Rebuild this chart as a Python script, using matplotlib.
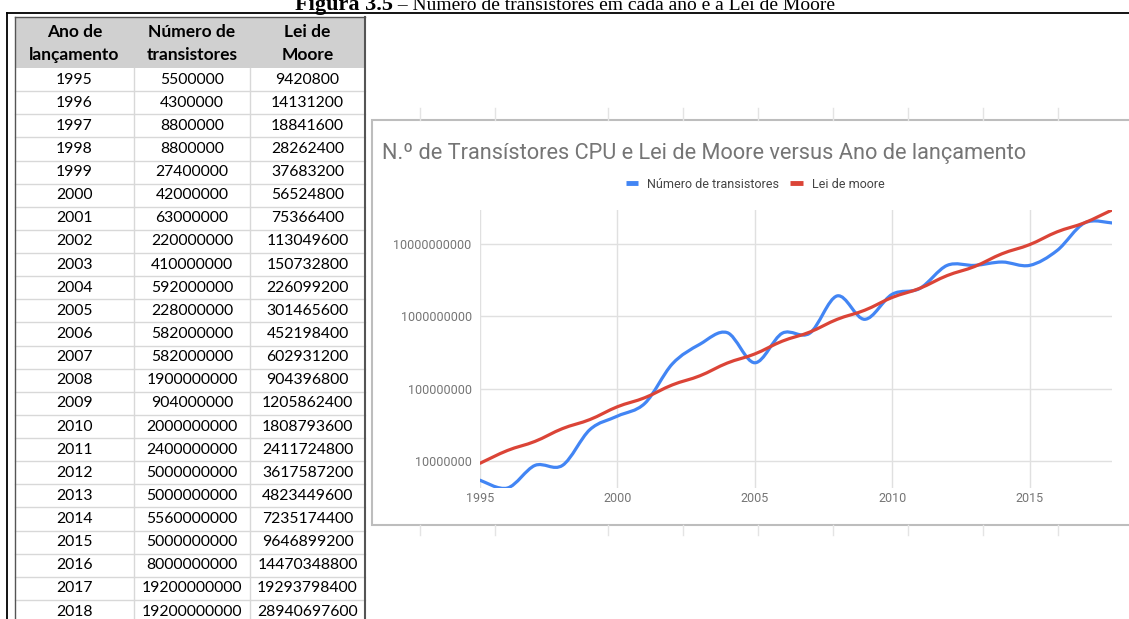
# Tabela com o número de transístores por ano e a Lei de Moore,
# com o gráfico (escala log) ao lado, como na figura 3.5

import numpy as np
import matplotlib.pyplot as plt
from matplotlib.path import Path
from matplotlib.patches import PathPatch, Rectangle
from matplotlib.lines import Line2D

anos = [1995, 1996, 1997, 1998, 1999, 2000, 2001, 2002, 2003, 2004, 2005, 2006,
        2007, 2008, 2009, 2010, 2011, 2012, 2013, 2014, 2015, 2016, 2017, 2018]
transistores = [5500000, 4300000, 8800000, 8800000, 27400000, 42000000, 63000000,
                220000000, 410000000, 592000000, 228000000, 582000000, 582000000,
                1900000000, 904000000, 2000000000, 2400000000, 5000000000,
                5000000000, 5560000000, 5000000000, 8000000000, 19200000000,
                19200000000]
moore = [9420800, 14131200, 18841600, 28262400, 37683200, 56524800, 75366400,
         113049600, 150732800, 226099200, 301465600, 452198400, 602931200,
         904396800, 1205862400, 1808793600, 2411724800, 3617587200, 4823449600,
         7235174400, 9646899200, 14470348800, 19293798400, 28940697600]

cabecalho = [("Ano de", "lançamento"), ("Número de", "transistores"), ("Lei de", "Moore")]
titulo = "N.º de Transístores CPU e Lei de Moore versus Ano de lançamento"
nomes = ["Número de transistores", "Lei de moore"]
legenda_fig_a = "Figura 3.5"
legenda_fig_b = " – Número de transístores em cada ano e a Lei de Moore"

azul = "#4285f4"
vermelho = "#db4437"
cinza = "#757575"


def curva_suave(x, y):
    # curva de Bezier (Catmull-Rom) passando pelos pontos, em espaço log
    ly = np.log10(y)
    n = len(x)
    verts = [(x[0], y[0])]
    codes = [Path.MOVETO]
    for i in range(n - 1):
        i0 = max(i - 1, 0)
        i2 = min(i + 2, n - 1)
        dx1 = (x[i + 1] - x[i0]) / 6.0
        dy1 = (ly[i + 1] - ly[i0]) / 6.0
        dx2 = (x[i2] - x[i]) / 6.0
        dy2 = (ly[i2] - ly[i]) / 6.0
        verts.append((x[i] + dx1, 10 ** (ly[i] + dy1)))
        verts.append((x[i + 1] - dx2, 10 ** (ly[i + 1] - dy2)))
        verts.append((x[i + 1], y[i + 1]))
        codes += [Path.CURVE4] * 3
    return Path(verts, codes)


W, H = 1129, 619
fig = plt.figure(figsize=(W / 100, H / 100), dpi=100)

# eixo de fundo em pixels (tabela, molduras)
bg = fig.add_axes([0, 0, 1, 1])
bg.set_xlim(0, W)
bg.set_ylim(H, 0)
bg.axis("off")

# legenda da figura (cortada no topo)
bg.text(393, 10, legenda_fig_a, ha="right", va="baseline", fontsize=16,
        fontweight="bold", family="Liberation Serif")
bg.text(393, 10, legenda_fig_b, ha="left", va="baseline", fontsize=14,
        family="Liberation Serif")

# moldura exterior
bg.plot([7, W], [13, 13], color="black", lw=1.3)
bg.plot([7, 7], [13, H], color="black", lw=1.3)

# tabela
x0, x1, x2, x3 = 15, 134, 250, 365
y_cab = 17
y_lin = 68
alt = 23.13
bg.add_patch(Rectangle((x0, y_cab), x3 - x0, y_lin - y_cab, facecolor="#d0d0d0",
                       edgecolor="none"))
centros = [(x0 + x1) / 2, (x1 + x2) / 2, (x2 + x3) / 2]
for c, (l1, l2) in zip(centros, cabecalho):
    bg.text(c, 32, l1, ha="center", va="center", fontsize=12.5, fontweight="bold",
            family="Lato")
    bg.text(c, 55, l2, ha="center", va="center", fontsize=12.5, fontweight="bold",
            family="Lato")

for i in range(len(anos)):
    yc = y_lin + alt * (i + 0.5)
    linha = [str(anos[i]), str(transistores[i]), str(moore[i])]
    for c, t in zip(centros, linha):
        bg.text(c, yc, t, ha="center", va="center", fontsize=11.3, family="Lato")
    bg.plot([x0, x3], [y_lin + alt * (i + 1)] * 2, color="#d8d8d8", lw=1)

for xv in [x1, x2]:
    bg.plot([xv, xv], [y_lin, H], color="#d8d8d8", lw=1)
bg.plot([x0, x3], [y_cab, y_cab], color="#555555", lw=1)
bg.plot([x0, x0], [y_cab, H], color="#555555", lw=1)
bg.plot([x3, x3], [y_cab, H], color="#555555", lw=1.5)

# grelha da folha de cálculo atrás do gráfico
for xv in [420, 495, 608, 683, 758, 833, 908, 983, 1058]:
    bg.plot([xv, xv], [108, 120], color="#e4e4e4", lw=1)
    bg.plot([xv, xv], [525, 535], color="#e4e4e4", lw=1)

# caixa do gráfico
bg.add_patch(Rectangle((372, 120), 800, 405, facecolor="white",
                       edgecolor="#bdbdbd", lw=1.5))

bg.text(382, 153, titulo, ha="left", va="center", fontsize=15.7, color=cinza,
        family="Roboto")

# gráfico
ax = fig.add_axes([480 / W, 1 - 488 / H, 632 / W, 278 / H])
ax.set_facecolor("none")
ax.set_yscale("log")
ax.set_xlim(anos[0], anos[-1])
ax.set_ylim(min(transistores), max(moore))

ax.add_patch(PathPatch(curva_suave(anos, transistores), facecolor="none",
                       edgecolor=azul, lw=2.3, capstyle="round", joinstyle="round"))
ax.add_patch(PathPatch(curva_suave(anos, moore), facecolor="none",
                       edgecolor=vermelho, lw=2.3, capstyle="round", joinstyle="round"))

ax.set_xticks(range(1995, 2016, 5))
ax.set_yticks([1e7, 1e8, 1e9, 1e10])
ax.set_yticklabels(["10000000", "100000000", "1000000000", "10000000000"])
ax.yaxis.set_minor_locator(plt.NullLocator())
ax.grid(True, color="#e0e0e0", lw=1)
ax.set_axisbelow(True)
for s in ax.spines.values():
    s.set_visible(False)
ax.tick_params(length=0, labelsize=9, labelcolor=cinza)
ax.tick_params(axis="y", pad=6)
ax.tick_params(axis="x", pad=3)
for t in ax.get_xticklabels() + ax.get_yticklabels():
    t.set_family("Roboto")

maos = [Line2D([], [], color=azul, lw=3.5, solid_capstyle="butt"),
        Line2D([], [], color=vermelho, lw=3.5, solid_capstyle="butt")]
leg = ax.legend(maos, nomes, loc="center", bbox_to_anchor=(755 / W, 1 - 184 / H),
                bbox_transform=fig.transFigure, ncol=2, frameon=False,
                handlelength=1.0, handletextpad=0.7, columnspacing=0.9,
                prop={"family": "Roboto", "size": 9})
for t in leg.get_texts():
    t.set_color("#444444")

fig.savefig("out.png", dpi=100)
